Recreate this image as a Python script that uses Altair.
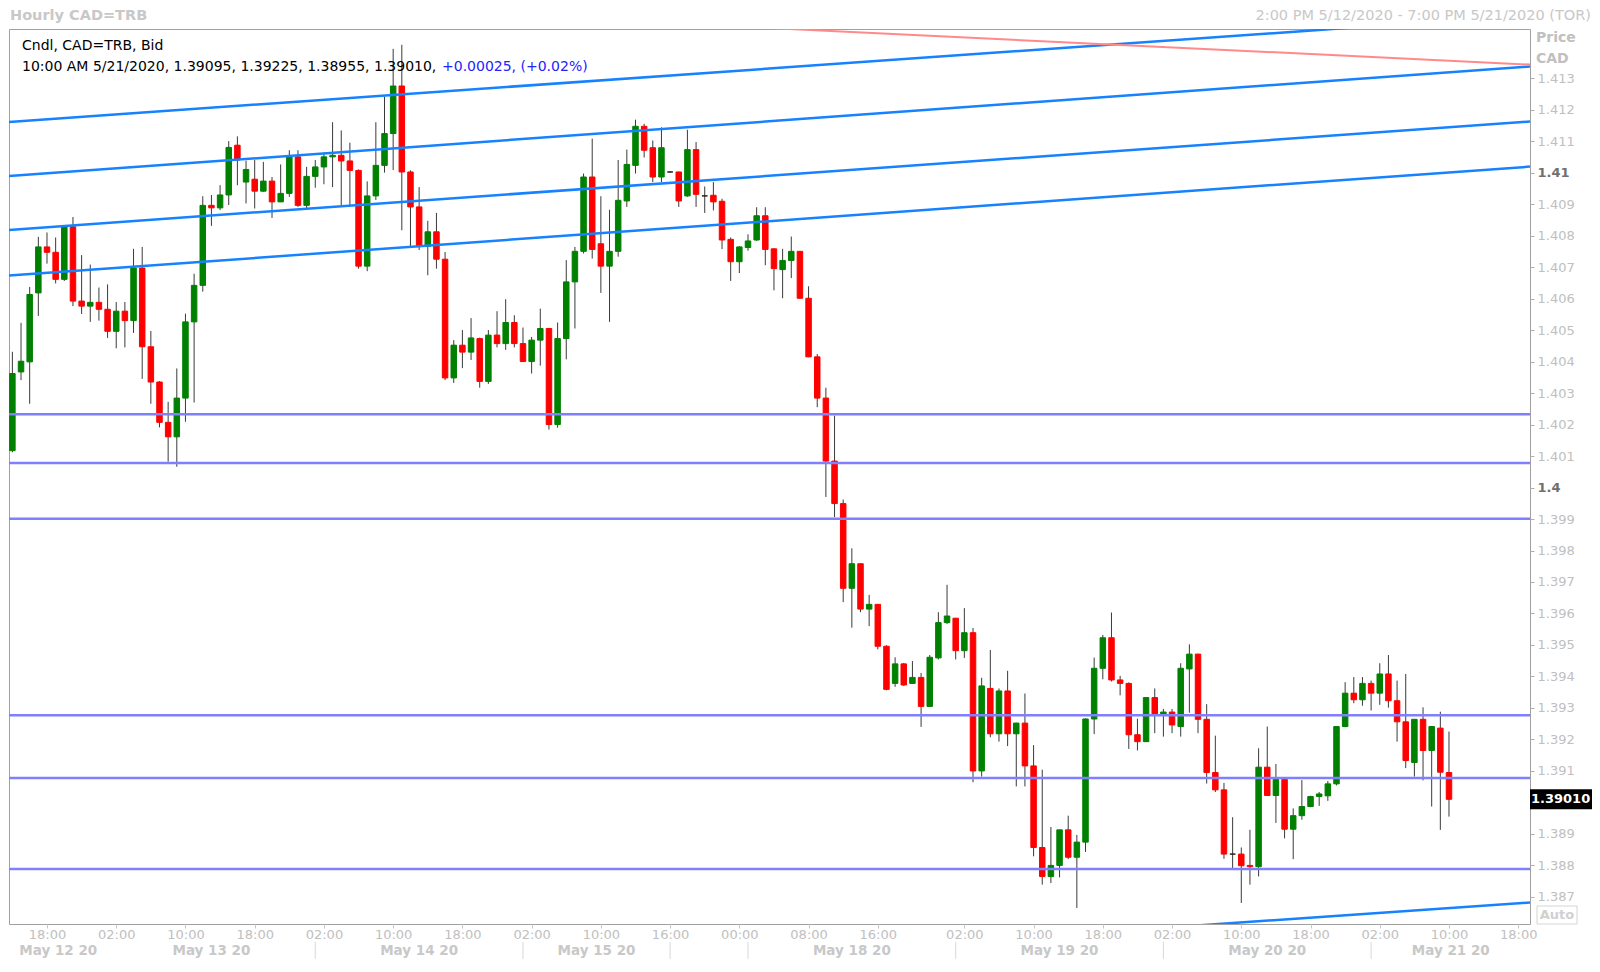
import altair as alt
import pandas as pd

W, H = 1521, 895

# ---- Hourly candles, CAD=TRB (bar 0 = 2:00 PM 5/12/2020, last = 10:00 AM 5/21/2020)
opens = [1.40117, 1.40367, 1.40399, 1.40618, 1.40764, 1.40747, 1.40661, 1.40828, 1.40592, 1.40576,
         1.40588, 1.40566, 1.40496, 1.40560, 1.40530, 1.40697, 1.40447, 1.40335, 1.40207, 1.40161,
         1.40284, 1.40526, 1.40642, 1.40896, 1.40888, 1.40929, 1.41087, 1.40970, 1.40979, 1.40941,
         1.40973, 1.40907, 1.40934, 1.41050, 1.40896, 1.40988, 1.41018, 1.41050, 1.41055, 1.41037,
         1.41007, 1.40703, 1.40926, 1.41023, 1.41124, 1.41275, 1.41002, 1.40891, 1.40766, 1.40812,
         1.40725, 1.40348, 1.40452, 1.40430, 1.40473, 1.40337, 1.40484, 1.40457, 1.40524, 1.40457,
         1.40400, 1.40468, 1.40505, 1.40200, 1.40473, 1.40653, 1.40750, 1.40986, 1.40774, 1.40703,
         1.40750, 1.40910, 1.41023, 1.41147, 1.41079, 1.40986, 1.41002, 1.41002, 1.40926, 1.41073,
         1.40926, 1.40928, 1.40909, 1.40788, 1.40717, 1.40762, 1.40786, 1.40863, 1.40758, 1.40692,
         1.40721, 1.40750, 1.40601, 1.40415, 1.40284, 1.40084, 1.39949, 1.39680, 1.39758, 1.39614,
         1.39629, 1.39496, 1.39378, 1.39440, 1.39378, 1.39397, 1.39305, 1.39459, 1.39571, 1.39585,
         1.39482, 1.39539, 1.39100, 1.39362, 1.39218, 1.39354, 1.39218, 1.39252, 1.39116, 1.38857,
         1.38765, 1.38800, 1.38913, 1.38826, 1.38874, 1.39265, 1.39426, 1.39523, 1.39389, 1.39378,
         1.39215, 1.39193, 1.39333, 1.39281, 1.39287, 1.39241, 1.39424, 1.39471, 1.39264, 1.39095,
         1.39040, 1.38836, 1.38836, 1.38800, 1.38796, 1.39112, 1.39022, 1.39073, 1.38915, 1.38958,
         1.38987, 1.39019, 1.39021, 1.39059, 1.39241, 1.39347, 1.39326, 1.39378, 1.39347, 1.39408,
         1.39323, 1.39256, 1.39127, 1.39264, 1.39165, 1.39236, 1.39095]
highs = [1.40431, 1.40523, 1.40637, 1.40796, 1.40810, 1.40794, 1.40833, 1.40859, 1.40738, 1.40708,
         1.40635, 1.40645, 1.40589, 1.40589, 1.40758, 1.40764, 1.40497, 1.40338, 1.40272, 1.40378,
         1.40552, 1.40679, 1.40925, 1.40929, 1.40960, 1.41100, 1.41115, 1.41038, 1.41040, 1.41034,
         1.40986, 1.41026, 1.41071, 1.41071, 1.41018, 1.41040, 1.41064, 1.41160, 1.41134, 1.41095,
         1.41010, 1.40972, 1.41160, 1.41241, 1.41393, 1.41406, 1.41007, 1.40954, 1.40847, 1.40872,
         1.40748, 1.40468, 1.40500, 1.40538, 1.40476, 1.40500, 1.40560, 1.40598, 1.40547, 1.40508,
         1.40478, 1.40568, 1.40507, 1.40524, 1.40722, 1.40764, 1.40997, 1.41108, 1.40925, 1.40882,
         1.41040, 1.41073, 1.41168, 1.41155, 1.41102, 1.41144, 1.41004, 1.41003, 1.41136, 1.41097,
         1.40956, 1.40970, 1.40917, 1.40794, 1.40766, 1.40804, 1.40890, 1.40890, 1.40759, 1.40758,
         1.40797, 1.40751, 1.40639, 1.40424, 1.40317, 1.40228, 1.39962, 1.39807, 1.39759, 1.39659,
         1.39630, 1.39499, 1.39461, 1.39443, 1.39449, 1.39411, 1.39468, 1.39604, 1.39691, 1.39586,
         1.39617, 1.39554, 1.39396, 1.39484, 1.39362, 1.39418, 1.39253, 1.39346, 1.39182, 1.39104,
         1.38922, 1.38913, 1.38958, 1.38897, 1.39267, 1.39460, 1.39532, 1.39603, 1.39402, 1.39381,
         1.39266, 1.39334, 1.39362, 1.39297, 1.39297, 1.39442, 1.39502, 1.39472, 1.39312, 1.39212,
         1.39062, 1.38953, 1.38857, 1.38913, 1.39172, 1.39241, 1.39122, 1.39074, 1.38981, 1.39071,
         1.39021, 1.39033, 1.39068, 1.39242, 1.39382, 1.39398, 1.39398, 1.39387, 1.39442, 1.39468,
         1.39387, 1.39408, 1.39264, 1.39302, 1.39241, 1.39288, 1.39225]
lows = [1.40112, 1.40341, 1.40266, 1.40545, 1.40711, 1.40648, 1.40656, 1.40576, 1.40551, 1.40526,
        1.40530, 1.40475, 1.40442, 1.40445, 1.40491, 1.40345, 1.40266, 1.40191, 1.40082, 1.40066,
        1.40209, 1.40270, 1.40622, 1.40831, 1.40881, 1.40897, 1.40960, 1.40902, 1.40886, 1.40939,
        1.40856, 1.40907, 1.40923, 1.40891, 1.40886, 1.40952, 1.40963, 1.40954, 1.40896, 1.40894,
        1.40695, 1.40687, 1.40913, 1.41000, 1.41008, 1.40817, 1.40766, 1.40754, 1.40674, 1.40695,
        1.40341, 1.40332, 1.40379, 1.40405, 1.40317, 1.40329, 1.40445, 1.40437, 1.40445, 1.40399,
        1.40362, 1.40387, 1.40184, 1.40190, 1.40407, 1.40505, 1.40743, 1.40727, 1.40618, 1.40526,
        1.40733, 1.40891, 1.40997, 1.41048, 1.40970, 1.40970, 1.41000, 1.40891, 1.40923, 1.40891,
        1.40872, 1.40880, 1.40757, 1.40656, 1.40681, 1.40752, 1.40783, 1.40706, 1.40626, 1.40601,
        1.40665, 1.40600, 1.40414, 1.40255, 1.39970, 1.39906, 1.39636, 1.39555, 1.39604, 1.39560,
        1.39486, 1.39356, 1.39367, 1.39370, 1.39376, 1.39240, 1.39303, 1.39454, 1.39567, 1.39454,
        1.39459, 1.39064, 1.39082, 1.39207, 1.39193, 1.39179, 1.39051, 1.39051, 1.38829, 1.38739,
        1.38744, 1.38762, 1.38820, 1.38665, 1.38843, 1.39217, 1.39391, 1.39384, 1.39340, 1.39170,
        1.39165, 1.39192, 1.39220, 1.39209, 1.39220, 1.39209, 1.39285, 1.39220, 1.39060, 1.39033,
        1.38821, 1.38792, 1.38681, 1.38739, 1.38765, 1.39021, 1.38935, 1.38886, 1.38820, 1.38945,
        1.38985, 1.38989, 1.39005, 1.39054, 1.39239, 1.39315, 1.39307, 1.39292, 1.39310, 1.39301,
        1.39193, 1.39109, 1.39082, 1.39070, 1.38987, 1.38913, 1.38955]
closes = [1.40362, 1.40401, 1.40613, 1.40764, 1.40747, 1.40661, 1.40828, 1.40592, 1.40576, 1.40588,
          1.40566, 1.40496, 1.40560, 1.40530, 1.40697, 1.40447, 1.40335, 1.40207, 1.40161, 1.40284,
          1.40526, 1.40642, 1.40896, 1.40888, 1.40929, 1.41080, 1.41040, 1.41010, 1.40941, 1.40973,
          1.40907, 1.40934, 1.41050, 1.40896, 1.40988, 1.41018, 1.41050, 1.41055, 1.41037, 1.41007,
          1.40703, 1.40926, 1.41023, 1.41124, 1.41275, 1.41002, 1.40891, 1.40766, 1.40812, 1.40725,
          1.40348, 1.40452, 1.40430, 1.40475, 1.40337, 1.40484, 1.40457, 1.40524, 1.40457, 1.40400,
          1.40468, 1.40505, 1.40200, 1.40473, 1.40653, 1.40750, 1.40986, 1.40756, 1.40703, 1.40750,
          1.40912, 1.41026, 1.41147, 1.41071, 1.40986, 1.41079, 1.41002, 1.40910, 1.41073, 1.40931,
          1.40926, 1.40907, 1.40786, 1.40717, 1.40764, 1.40783, 1.40863, 1.40756, 1.40695, 1.40721,
          1.40750, 1.40601, 1.40415, 1.40284, 1.40084, 1.39949, 1.39680, 1.39758, 1.39614, 1.39629,
          1.39496, 1.39359, 1.39440, 1.39373, 1.39397, 1.39305, 1.39461, 1.39571, 1.39592, 1.39482,
          1.39539, 1.39100, 1.39370, 1.39218, 1.39354, 1.39218, 1.39252, 1.39116, 1.38857, 1.38765,
          1.38800, 1.38913, 1.38826, 1.38874, 1.39265, 1.39426, 1.39523, 1.39389, 1.39378, 1.39215,
          1.39193, 1.39333, 1.39281, 1.39287, 1.39246, 1.39426, 1.39471, 1.39264, 1.39095, 1.39040,
          1.38836, 1.38836, 1.38799, 1.38796, 1.39112, 1.39022, 1.39073, 1.38915, 1.38958, 1.38987,
          1.39019, 1.39027, 1.39059, 1.39241, 1.39347, 1.39326, 1.39378, 1.39347, 1.39408, 1.39323,
          1.39256, 1.39133, 1.39264, 1.39165, 1.39241, 1.39096, 1.39010]

# ---- axes
hour_ticks = [4, 12, 20, 28, 36, 44, 52, 60, 68, 76, 84, 92, 100, 110, 118, 126, 134, 142, 150, 158, 166, 174]
hour_labels = ['18:00', '02:00', '10:00', '18:00', '02:00', '10:00', '18:00', '02:00', '10:00', '16:00',
               '00:00', '08:00', '16:00', '02:00', '10:00', '18:00', '02:00', '10:00', '18:00', '02:00',
               '10:00', '18:00']
date_labels = ['May 12 20', 'May 13 20', 'May 14 20', 'May 15 20', 'May 18 20', 'May 19 20', 'May 20 20', 'May 21 20']
date_centers = [5.3, 23, 47, 67.5, 97, 121, 145, 166.2]
day_breaks = [35, 59, 76, 85, 109, 133, 157]
# 1.390 sits under the last-price box, so it is not listed
price_ticks = [1.387, 1.388, 1.389, 1.391, 1.392, 1.393, 1.394, 1.395, 1.396, 1.397, 1.398, 1.399,
               1.4, 1.401, 1.402, 1.403, 1.404, 1.405, 1.406, 1.407, 1.408, 1.409, 1.41, 1.411, 1.412, 1.413]
x_lo, x_hi = -0.39, 175.36
y_lo, y_hi = 1.38614, 1.41456

# ---- drawn studies
support_levels = [1.40233, 1.40078, 1.39901, 1.39277, 1.39078, 1.38789]
channel_names = ['A', 'B', 'C', 'D', 'E']
channel_start = [1.41161, 1.40989, 1.40818, 1.40673, 1.38350]
channel_end = [1.41500, 1.41337, 1.41162, 1.41019, 1.38682]
red_start, red_end = 1.41575, 1.41343

chart_title = 'Hourly CAD=TRB'
range_title = '2:00 PM 5/12/2020 - 7:00 PM 5/21/2020 (TOR)'
legend_line1 = 'Cndl, CAD=TRB, Bid'
legend_change = '+0.00025, (+0.02%)'

FONT = 'DejaVu Sans'
LIGHT = '#c0c0c0'

candles = pd.DataFrame({'bar': list(range(len(opens))), 'open': opens, 'high': highs,
                        'low': lows, 'close': closes})
candles['dir'] = ['up' if c > o else ('down' if c < o else 'flat') for o, c in zip(opens, closes)]
last = candles.tail(1)
legend_line2 = '10:00 AM 5/21/2020, {:.5f}, {:.5f}, {:.5f}, {:.5f},'.format(
    opens[-1], highs[-1], lows[-1], closes[-1])

xscale = alt.Scale(domain=[x_lo, x_hi], nice=False, zero=False, padding=0)
yscale = alt.Scale(domain=[y_lo, y_hi], nice=False, zero=False, padding=0)

label_expr = "[{}][indexof([{}], datum.value)]".format(
    ",".join("'%s'" % s for s in hour_labels), ",".join(str(v) for v in hour_ticks))
xaxis = alt.Axis(values=hour_ticks, labelExpr=label_expr, grid=False, domain=False,
                 tickColor='#c8c8c8', tickSize=4, labelColor=LIGHT, labelFont=FONT,
                 labelFontSize=13, labelPadding=0, title=None, labelFlush=False,
                 labelOverlap=False)
bold_test = "datum.value == 1.41 || datum.value == 1.4"
yaxis = alt.Axis(orient='right', values=price_ticks, format='.3~f', grid=False, domain=False,
                 tickSize=4, tickColor='#b0b0b0', labelFont=FONT, labelFontSize=13,
                 labelPadding=3, title=None, labelOverlap=False, labelFlush=False,
                 labelColor={'condition': {'test': bold_test, 'value': '#707070'}, 'value': LIGHT},
                 labelFontWeight={'condition': {'test': bold_test, 'value': 'bold'}, 'value': 'normal'})


def X(f):
    return alt.X(f, type='quantitative', scale=xscale, axis=xaxis)


def Y(f):
    return alt.Y(f, type='quantitative', scale=yscale, axis=yaxis)


dir_scale = alt.Scale(domain=['up', 'down', 'flat'], range=['#008000', '#ff0000', '#202020'])

wicks = alt.Chart(candles).mark_rule(color='#3a3a3a', strokeWidth=1).encode(
    x=X('bar'), y=Y('low'), y2='high')
bodies = alt.Chart(candles).mark_bar(size=5.5, strokeWidth=1).encode(
    x=X('bar'), y=Y('open'), y2='close',
    color=alt.Color('dir:N', scale=dir_scale, legend=None),
    stroke=alt.Stroke('dir:N', scale=dir_scale, legend=None))

purple = alt.Chart(pd.DataFrame({'level': support_levels})).mark_rule(
    color='#7f7fff', strokeWidth=2.5).encode(y=Y('level'))

rows = []
for name, a, b in zip(channel_names, channel_start, channel_end):
    rows.append({'line': name, 'bar': x_lo, 'price': a})
    rows.append({'line': name, 'bar': x_hi, 'price': b})
blue = alt.Chart(pd.DataFrame(rows)).mark_line(color='#1682ff', strokeWidth=2.5, clip=True).encode(
    x=X('bar'), y=Y('price'), detail='line:N')
red = alt.Chart(pd.DataFrame({'bar': [x_lo, x_hi], 'price': [red_start, red_end]})).mark_line(
    color='#ff8a8a', strokeWidth=2, clip=True).encode(x=X('bar'), y=Y('price'))

# date row + separators
dates = alt.Chart(pd.DataFrame({'bar': date_centers, 'label': date_labels})).mark_text(
    font=FONT, fontSize=13.5, fontWeight='bold', color='#c8c8c8', baseline='alphabetic').encode(
    x=X('bar'), y=alt.value(H + 31), text='label:N')
seps = alt.Chart(pd.DataFrame({'bar': day_breaks})).mark_rule(color='#d8d8d8', strokeWidth=1).encode(
    x=X('bar'), y=alt.value(H + 18), y2=alt.value(H + 35))


def label(text, x, y, **kw):
    return alt.Chart(pd.DataFrame({'t': [text]})).mark_text(font=FONT, baseline='middle', **kw).encode(
        x=alt.value(x), y=alt.value(y), text='t:N')


title_l = label(chart_title, 1, -13, align='left', fontSize=14.5, fontWeight='bold', color='#c8c8c8')
title_r = label(range_title, W + 61, -13, align='right', fontSize=14.5, color='#c8c8c8')
leg1 = label(legend_line1, 13, 17, align='left', fontSize=14, color='#000000')
leg2 = label(legend_line2, 13, 38, align='left', fontSize=14, color='#000000')
leg3 = label(legend_change, 433, 38, align='left', fontSize=14, color='#2222ff')
price_hdr = label('Price', W + 6, 9, align='left', fontSize=14, fontWeight='bold', color=LIGHT)
cad_hdr = label('CAD', W + 6, 30, align='left', fontSize=14, fontWeight='bold', color=LIGHT)
auto_box = alt.Chart(pd.DataFrame({'t': ['Auto']})).mark_rect(fill='white', stroke='#d4d4d4').encode(
    x=alt.value(W + 7), x2=alt.value(W + 47), y=alt.value(877), y2=alt.value(895))
auto_txt = label('Auto', W + 27, 886, align='center', fontSize=13, fontWeight='bold', color='#d0d0d0')

last_box = alt.Chart(last).mark_rect(color='black', yOffset=-10, y2Offset=10).encode(
    x=alt.value(W), x2=alt.value(W + 62), y=Y('close'), y2='close')
last_txt = alt.Chart(last).mark_text(align='left', baseline='middle', color='white', font=FONT,
                                     fontSize=13, fontWeight='bold').encode(
    x=alt.value(W + 1), y=Y('close'), text=alt.Text('close:Q', format='.5f'))

chart = alt.layer(
    wicks, bodies, purple, blue, red, seps, dates,
    title_l, title_r, leg1, leg2, leg3, price_hdr, cad_hdr, auto_box, auto_txt, last_box, last_txt
).properties(
    width=W, height=H,
    autosize=alt.AutoSizeParams(type='none'),
    padding={'left': 1, 'top': 21, 'right': 62, 'bottom': 36},
    background='white'
).configure_view(stroke='#a0a0a0', strokeWidth=1)

chart.save("out.html", embed_options={"renderer": "svg", "actions": False})
